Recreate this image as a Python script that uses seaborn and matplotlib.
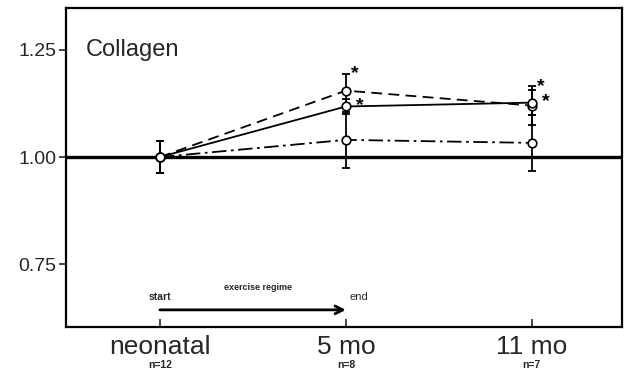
"""Collagen time course (neonatal, 5 mo, 11 mo) relative to neonatal."""

import pandas as pd
import matplotlib
matplotlib.use("Agg")
import matplotlib.pyplot as plt
import seaborn as sns

# ---- data ----
ages = ["neonatal", "5 mo", "11 mo"]
group_n = ["n=12", "n=8", "n=7"]
series_names = ["dashed", "solid", "dashdot"]
dashed_vals = [1.00, 1.155, 1.120]
dashed_err = [0.037, 0.040, 0.045]
solid_vals = [1.00, 1.118, 1.127]
solid_err = [0.037, 0.018, 0.030]
dashdot_vals = [1.00, 1.040, 1.033]
dashdot_err = [0.037, 0.066, 0.066]

sns.set_theme(style="ticks")
plt.rcParams["font.family"] = ["Liberation Sans", "DejaVu Sans"]

# long-form table for seaborn
rows = []
for name, vals, errs in zip(series_names,
                            [dashed_vals, solid_vals, dashdot_vals],
                            [dashed_err, solid_err, dashdot_err]):
    for i, (v, e) in enumerate(zip(vals, errs)):
        rows.append({"series": name, "pos": i, "value": v, "err": e})
df = pd.DataFrame(rows)

fig = plt.figure(figsize=(6.26, 3.70), dpi=100)
ax = fig.add_axes([0.1054, 0.1162, 0.888, 0.8622])

# reference line at 1.00
ax.axhline(1.0, color="black", lw=2.4, zorder=2)

dash_map = {"dashed": (6, 3.5), "solid": "", "dashdot": (8, 2.5, 1.5, 2.5)}
sns.lineplot(data=df, x="pos", y="value", style="series", dashes=dash_map,
             markers={"dashed": "o", "solid": "o", "dashdot": "o"},
             color="black", lw=1.3, markersize=6.2, markerfacecolor="white",
             markeredgecolor="black", markeredgewidth=1.2,
             legend=False, ax=ax, zorder=4)

# error bars
for name in series_names:
    sub = df[df["series"] == name]
    ax.errorbar(sub["pos"], sub["value"], yerr=sub["err"], fmt="none",
                ecolor="black", elinewidth=1.3, capsize=3.2, capthick=1.3,
                zorder=3)

# significance stars
d5 = df[(df["series"] == "dashed") & (df["pos"] > 0)]
s5 = df[(df["series"] == "solid") & (df["pos"] > 0)]
for _, r in d5.iterrows():
    ax.text(r["pos"] + 0.05, r["value"] + r["err"], "*", fontsize=14,
            fontweight="bold", ha="center", va="center", color="black")
for _, r in s5.iterrows():
    ax.text(r["pos"] + 0.075, r["value"] + 0.003, "*", fontsize=14,
            fontweight="bold", ha="center", va="center", color="black")

# exercise regime arrow
ax.annotate("", xy=(1, 0.643), xytext=(0, 0.643),
            arrowprops=dict(arrowstyle="->", lw=2.0, color="black",
                            mutation_scale=14, shrinkA=0, shrinkB=0))
ax.text(0.0, 0.662, "start", fontsize=7.5, fontweight="bold",
        ha="center", va="bottom")
ax.text(0.53, 0.685, "exercise regime", fontsize=6.5, fontweight="bold",
        ha="center", va="bottom")
ax.text(1.07, 0.662, "end", fontsize=8, ha="center", va="bottom")

ax.text(-0.40, 1.25, "Collagen", fontsize=17, ha="left", va="center")

# axes styling
ax.set_xlim(-0.505, 2.484)
ax.set_ylim(0.603, 1.348)
ax.set_xticks(range(len(ages)))
ax.set_xticklabels(ages, fontsize=19)
ax.set_yticks([0.75, 1.00, 1.25])
ax.set_yticklabels(["0.75", "1.00", "1.25"], fontsize=14)
ax.tick_params(axis="x", direction="in", length=6, width=1.2, pad=6)
ax.tick_params(axis="y", direction="out", length=5, width=1.2, pad=2)
ax.set_xlabel("")
ax.set_ylabel("")
for side in ["left", "right", "top", "bottom"]:
    ax.spines[side].set_visible(True)
    ax.spines[side].set_linewidth(1.6)
    ax.spines[side].set_color("black")

for i, lab in enumerate(group_n):
    ax.annotate(lab, xy=(i, 0), xycoords=("data", "axes fraction"),
                xytext=(0, -24), textcoords="offset points",
                fontsize=7.5, fontweight="bold", ha="center", va="top")

fig.savefig("out.png", dpi=100)
